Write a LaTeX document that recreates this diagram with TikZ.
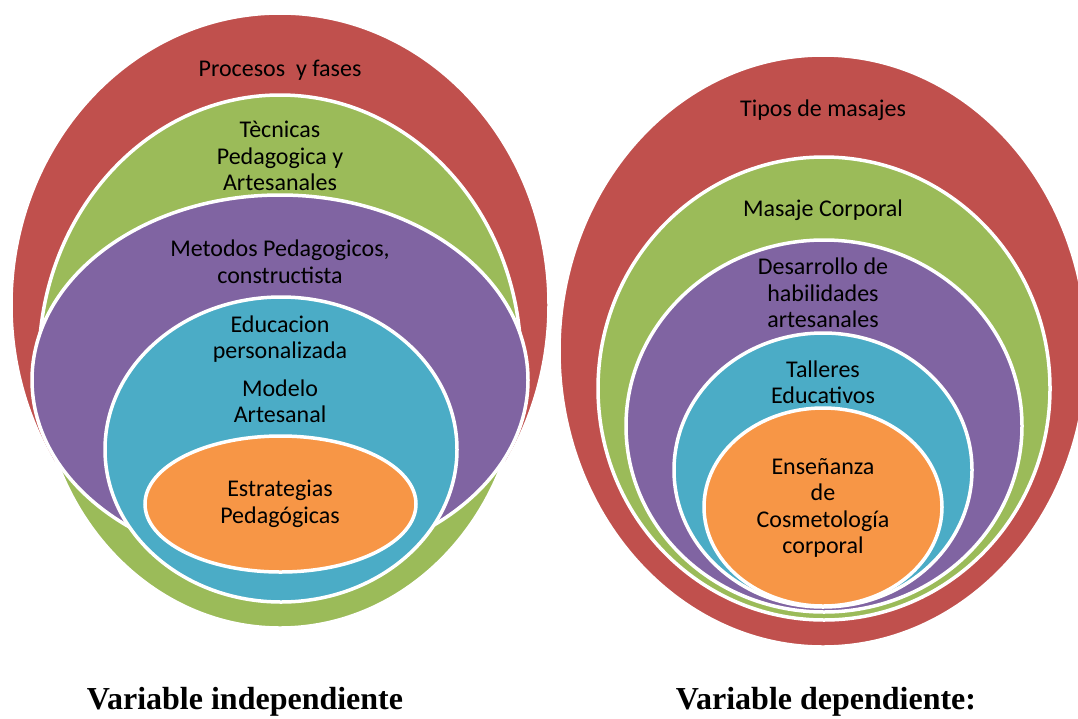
\documentclass[tikz,border=0pt]{standalone}
\usepackage{fontspec}
\setmainfont{Carlito}
\newfontfamily\capfont{Liberation Serif}
\usetikzlibrary{shapes.geometric}
\definecolor{cred}{HTML}{C0504D}
\definecolor{cgreen}{HTML}{9BBB59}
\definecolor{cpurple}{HTML}{8064A2}
\definecolor{cteal}{HTML}{4BACC6}
\definecolor{corange}{HTML}{F79646}
\begin{document}
\begin{tikzpicture}[x=1pt,y=-1pt,
  ring/.style={ellipse, draw=white, line width=3.5pt, inner sep=0pt, outer sep=0pt},
  lbl/.style={align=center, font=\fontsize{24}{26.5}\selectfont, text=black, inner sep=0pt},
  caption/.style={font=\capfont\bfseries\fontsize{32}{38}\selectfont, anchor=base, inner sep=0pt, text=black}]
\useasboundingbox (0,0) rectangle (1078,718);
% left diagram
\node[ring, fill=cred, minimum width=538pt, minimum height=584pt] (Lred) at (280,305) {};
\node[ring, fill=cgreen, minimum width=482pt, minimum height=533pt] (Lgreen) at (280,361.5) {};
\node[ring, fill=cpurple, minimum width=496pt, minimum height=370pt] (Lpurple) at (280,380) {};
\node[ring, fill=cteal, minimum width=352pt, minimum height=305pt] (Lteal) at (281,449.5) {};
\node[ring, fill=corange, minimum width=271pt, minimum height=136pt] (Lorange) at (280.5,504) {};
\node[lbl] (t1) at (280,70) {Procesos\ \ y fases};
\node[lbl] (t2) at (280,156) {Tècnicas\\Pedagogica y\\Artesanales};
\node[lbl] (t3) at (280,261.5) {Metodos Pedagogicos,\\constructista};
\node[lbl] (t4) at (280,339) {Educacion\\personalizada};
\node[lbl] (t5) at (280,401) {Modelo\\Artesanal};
\node[lbl] (t6) at (280,504) {Estrategias\\Pedagógicas};
% right diagram
\node[ring, fill=cred, minimum width=528pt, minimum height=592pt] (Rred) at (823,351) {};
\node[ring, fill=cgreen, minimum width=452pt, minimum height=463pt] (Rgreen) at (824,388.5) {};
\node[ring, fill=cpurple, minimum width=396pt, minimum height=372pt] (Rpurple) at (824,426) {};
\node[ring, fill=cteal, minimum width=298pt, minimum height=274pt] (Rteal) at (823,470) {};
\node[ring, fill=corange, minimum width=238pt, minimum height=198pt] (Rorange) at (823,507) {};
\node[lbl] (r1) at (823,110) {Tipos de masajes};
\node[lbl] (r2) at (823,210) {Masaje Corporal};
\node[lbl] (r3) at (823,293) {Desarrollo de\\habilidades\\artesanales};
\node[lbl] (r4) at (823,382) {Talleres\\Educativos};
\node[lbl] (r5) at (823,508) {Enseñanza\\de\\Cosmetología\\corporal};
% captions
\node[caption] (c1) at (245,709.5) {Variable independiente};
\node[caption] (c2) at (826,709.5) {Variable dependiente:};
\end{tikzpicture}
\end{document}
